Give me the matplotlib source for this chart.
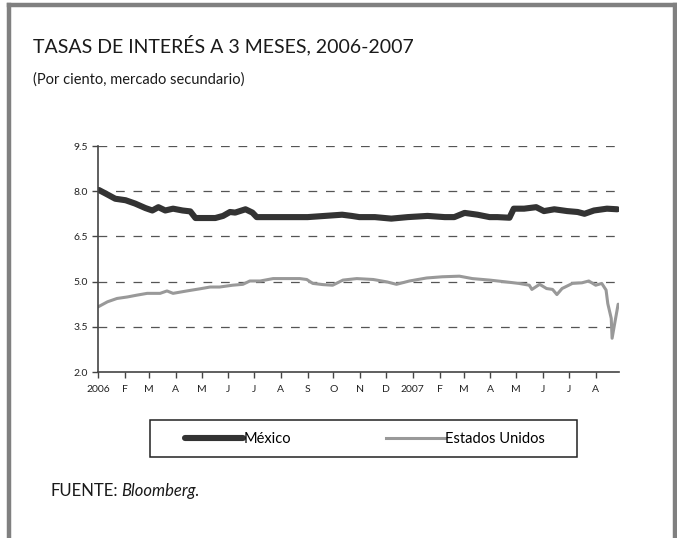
import pandas as pd
import matplotlib
matplotlib.use('Agg')
import matplotlib.pyplot as plt
from matplotlib.lines import Line2D
from matplotlib.patches import Rectangle

plt.rcParams['font.family'] = ['Lato', 'DejaVu Sans']

# ── DATA ──
mx_dates = ['2006-01-02', '2006-01-10', '2006-01-21', '2006-02-02', '2006-02-13',
            '2006-02-25', '2006-03-05', '2006-03-12', '2006-03-20', '2006-03-29',
            '2006-04-09', '2006-04-18', '2006-04-24', '2006-05-05', '2006-05-17',
            '2006-05-26', '2006-06-03', '2006-06-09', '2006-06-21', '2006-06-29',
            '2006-07-04', '2006-07-25', '2006-08-14', '2006-09-01', '2006-09-21',
            '2006-10-11', '2006-10-22', '2006-10-31', '2006-11-18', '2006-12-07',
            '2006-12-26', '2007-01-18', '2007-02-07', '2007-02-18', '2007-03-02',
            '2007-03-17', '2007-03-31', '2007-04-09', '2007-04-23', '2007-04-28',
            '2007-05-10', '2007-05-24', '2007-06-02', '2007-06-14', '2007-06-29',
            '2007-07-11', '2007-07-19', '2007-07-30', '2007-08-14', '2007-08-26']
mexico = [8.04, 7.92, 7.75, 7.70, 7.59,
          7.44, 7.36, 7.47, 7.36, 7.42,
          7.36, 7.33, 7.11, 7.11, 7.11,
          7.18, 7.31, 7.29, 7.40, 7.29,
          7.14, 7.14, 7.14, 7.14, 7.18,
          7.22, 7.18, 7.14, 7.14, 7.09,
          7.14, 7.18, 7.14, 7.14, 7.28,
          7.22, 7.14, 7.14, 7.12, 7.42,
          7.42, 7.47, 7.34, 7.40, 7.34,
          7.31, 7.25, 7.36, 7.42, 7.40]

us_dates = ['2006-01-01', '2006-01-12', '2006-01-23', '2006-02-04', '2006-02-15',
            '2006-02-27', '2006-03-14', '2006-03-22', '2006-03-29', '2006-04-14',
            '2006-04-29', '2006-05-11', '2006-05-22', '2006-06-06', '2006-06-18',
            '2006-06-26', '2006-07-08', '2006-07-23', '2006-08-08', '2006-08-23',
            '2006-08-31', '2006-09-07', '2006-09-19', '2006-09-30', '2006-10-12',
            '2006-10-28', '2006-11-16', '2006-12-02', '2006-12-13', '2006-12-28',
            '2007-01-17', '2007-02-04', '2007-02-24', '2007-03-11', '2007-03-31',
            '2007-04-19', '2007-05-04', '2007-05-16', '2007-05-19', '2007-05-28',
            '2007-06-05', '2007-06-12', '2007-06-17', '2007-06-23', '2007-07-05',
            '2007-07-16', '2007-07-24', '2007-08-01', '2007-08-08', '2007-08-13',
            '2007-08-15', '2007-08-19', '2007-08-20', '2007-08-23', '2007-08-27']
estados_unidos = [4.16, 4.33, 4.44, 4.49, 4.55,
                  4.61, 4.61, 4.69, 4.61, 4.69,
                  4.76, 4.82, 4.82, 4.88, 4.91,
                  5.02, 5.02, 5.10, 5.10, 5.10,
                  5.07, 4.94, 4.90, 4.88, 5.05,
                  5.10, 5.07, 4.99, 4.91, 5.02,
                  5.12, 5.16, 5.18, 5.10, 5.05,
                  4.99, 4.94, 4.88, 4.74, 4.91,
                  4.77, 4.74, 4.57, 4.77, 4.94,
                  4.96, 5.02, 4.88, 4.94, 4.72,
                  4.27, 3.78, 3.12, 3.61, 4.25]

y_ticks = [2.0, 3.5, 5.0, 6.5, 8.0, 9.5]
month_labels = ['2006', 'F', 'M', 'A', 'M', 'J', 'J', 'A', 'S', 'O', 'N', 'D',
                '2007', 'F', 'M', 'A', 'M', 'J', 'J', 'A']

# ── FIGURE ──
W, H = 677, 538
fig = plt.figure(figsize=(W / 100, H / 100), dpi=100)
fig.patch.set_facecolor('white')

def fx(px):
    return px / W

def fy(py):
    return 1 - py / H

# gray frame (left, top, right)
frame = '#808080'
fig.add_artist(Line2D([fx(9), fx(9)], [0, fy(5)], color=frame, lw=3.2))
fig.add_artist(Line2D([fx(9), fx(675)], [fy(5), fy(5)], color=frame, lw=3.2))
fig.add_artist(Line2D([fx(675), fx(675)], [0, fy(5)], color=frame, lw=3.2))

fig.text(fx(33), fy(52), 'TASAS DE INTERÉS A 3 MESES, 2006-2007', fontsize=14,
         color='#1a1a1a', va='baseline')
fig.text(fx(33), fy(84), '(Por ciento, mercado secundario)', fontsize=10.5,
         color='#1a1a1a', va='baseline')

ax = fig.add_axes([fx(98), fy(372), fx(619) - fx(98), fy(146) - fy(372)])

mx = pd.to_datetime(mx_dates)
us = pd.to_datetime(us_dates)
ax.plot(us, estados_unidos, color='#999999', lw=2.2, solid_capstyle='round',
        solid_joinstyle='round', label='Estados Unidos')
ax.plot(mx, mexico, color='#333333', lw=4.4, solid_capstyle='round',
        solid_joinstyle='round', label='México')

ax.set_ylim(2.0, 9.5)
ax.set_yticks(y_ticks)
ax.set_yticklabels([f'{v:.1f}' for v in y_ticks])
for v in y_ticks[1:]:
    ax.axhline(v, color='#555555', lw=0.9, dashes=(7, 7), zorder=0)

ticks = pd.date_range('2006-01-01', periods=len(month_labels), freq='MS')
ax.set_xticks(ticks)
ax.set_xticklabels(month_labels)
ax.set_xlim(pd.Timestamp('2006-01-01'), pd.Timestamp('2007-08-28'))

for s in ['top', 'right']:
    ax.spines[s].set_visible(False)
for s in ['left', 'bottom']:
    ax.spines[s].set_color('#444444')
    ax.spines[s].set_linewidth(1.2)
ax.tick_params(axis='both', direction='out', length=4, width=1, color='#444444',
               labelsize=7.5, labelcolor='#222222')
ax.tick_params(axis='y', pad=3)
ax.tick_params(axis='x', pad=5)

# legend box
fig.add_artist(Rectangle((fx(150), fy(457)), fx(577) - fx(150), fy(420) - fy(457),
                         transform=fig.transFigure, fill=False, edgecolor='#222222',
                         lw=1.1))
handles = [Line2D([], [], color='#333333', lw=4.4, solid_capstyle='round'),
           Line2D([], [], color='#999999', lw=2.2)]
fig.legend(handles, ['México', 'Estados Unidos'], loc='center',
           bbox_to_anchor=(fx(365), fy(439)), ncol=2, frameon=False,
           fontsize=10.5, handlelength=4.0, handletextpad=0.05,
           columnspacing=6.5)

# source line: regular label followed by italic name
src = fig.text(fx(50), fy(496), 'FUENTE:', fontsize=12, color='#1a1a1a',
               va='baseline')
fig.canvas.draw()
bb = src.get_window_extent(renderer=fig.canvas.get_renderer())
fig.text(bb.x1 / W + fx(4), fy(496), 'Bloomberg.', fontsize=12, color='#1a1a1a',
         style='italic', va='baseline')

fig.savefig('out.png', dpi=100)
